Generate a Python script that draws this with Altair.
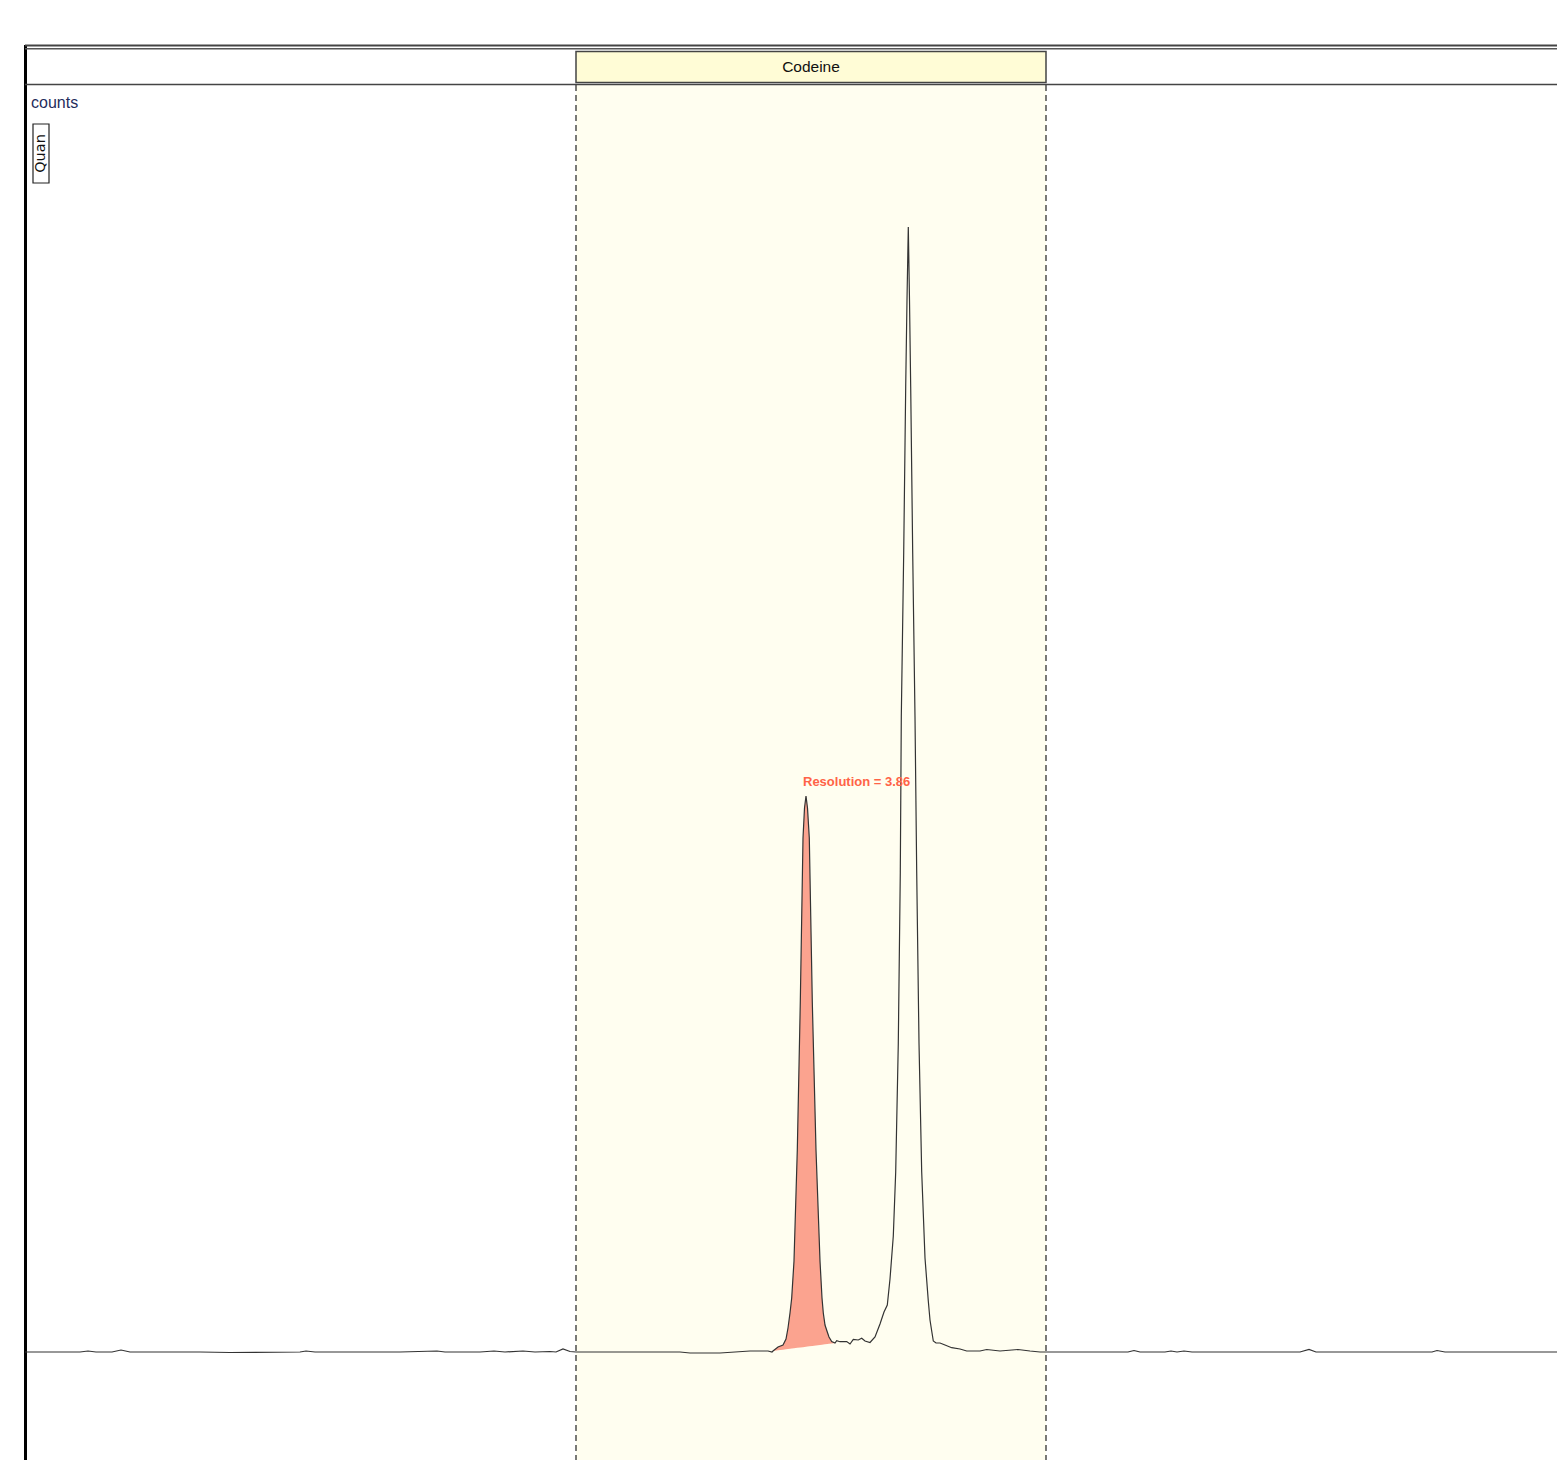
import altair as alt
import pandas as pd

# ---------------- data ----------------
# retention time (min) and detector counts of the chromatogram trace
time_min = [
    0.000, 0.175, 0.275, 0.315, 0.355, 0.435, 0.480, 0.525, 0.875, 1.025,
    1.375, 1.405, 1.450, 1.875, 2.060, 2.100, 2.275, 2.345, 2.400, 2.490,
    2.550, 2.625, 2.655, 2.690, 2.725, 2.755, 2.875, 3.075, 3.275, 3.325,
    3.475, 3.550, 3.625, 3.675, 3.715, 3.735, 3.740, 3.765, 3.790, 3.805,
    3.815, 3.825, 3.8335, 3.845, 3.8615, 3.8765, 3.890, 3.8975, 3.905, 3.9125,
    3.9215, 3.9365, 3.955, 3.975, 3.985, 3.9915, 4.000, 4.0115, 4.020, 4.0335,
    4.050, 4.0585, 4.075, 4.1085, 4.125, 4.1415, 4.1665, 4.1835, 4.200, 4.225,
    4.250, 4.275, 4.295, 4.3115, 4.325, 4.3415, 4.3535, 4.3665, 4.3765, 4.3815,
    4.3935, 4.4035, 4.410, 4.4165, 4.4225, 4.4285, 4.4385, 4.450, 4.4585, 4.470,
    4.4835, 4.500, 4.5165, 4.525, 4.5335, 4.5415, 4.555, 4.575, 4.600, 4.6335,
    4.675, 4.7085, 4.775, 4.8085, 4.875, 4.965, 5.025, 5.075, 5.105, 5.375,
    5.515, 5.545, 5.575, 5.700, 5.730, 5.760, 5.795, 5.835, 6.375, 6.420,
    6.455, 6.875, 7.035, 7.060, 7.100, 7.375, 7.700,
]
counts = [
    5000, 5000, 5000, 6000, 5000, 5000, 7000, 5000, 5000, 4500,
    5000, 6000, 5000, 5000, 6000, 5000, 5000, 6000, 5000, 6000,
    5000, 5500, 5000, 8000, 5500, 5000, 5000, 5000, 5000, 4000,
    4000, 5000, 6000, 6000, 6000, 5000, 6000, 10000, 12000, 18000,
    29000, 44000, 59000, 96000, 207000, 355000, 519000, 549000, 561000, 549000,
    519000, 355000, 207000, 96000, 59000, 44000, 32000, 25000, 20000, 15500,
    14000, 16300, 15300, 15500, 13000, 17700, 17000, 18700, 16000, 14500,
    20000, 33000, 45000, 52000, 78000, 121000, 185000, 314000, 485000, 640000,
    804000, 970000, 1057000, 1130000, 1057000, 970000, 804000, 640000, 485000, 314000,
    185000, 99000, 56000, 37000, 26000, 16000, 14000, 14000, 12000, 9300,
    8000, 6000, 6000, 7500, 6000, 7500, 6000, 5000, 5000, 5000,
    5000, 6500, 5000, 5000, 6000, 5000, 6000, 5000, 5000, 7500,
    5000, 5000, 5000, 6500, 5000, 5000, 5000,
]

compound = ["Codeine"]
window_start = [2.755]
window_end = [5.105]

peak_start, peak_end = 3.740, 4.050
peak_start_counts, peak_end_counts = 6000, 14000
apex_time = [3.905]
apex_counts = [561000]
annotation = ["Resolution = 3.86"]

y_title = ["counts"]
trace_tag = ["Quan"]

# ---------------- layout ----------------
X_DOMAIN = [0.0, 7.66]
Y_DOMAIN = [-103000, 1312000]
W, H = 1532, 1415
SANS = "Liberation Sans, Arial, sans-serif"

xs = alt.Scale(domain=X_DOMAIN, nice=False, zero=False)
ys = alt.Scale(domain=Y_DOMAIN, nice=False, zero=False)

trace = pd.DataFrame({"time": time_min, "counts": counts})
win = pd.DataFrame({"start": window_start, "end": window_end, "name": compound})
ann = pd.DataFrame({"time": apex_time, "counts": apex_counts, "label": annotation})
ytl = pd.DataFrame({"label": y_title})
tag = pd.DataFrame({"label": trace_tag})
dummy = pd.DataFrame({"k": [0]})

band = alt.Chart(win).mark_rect(color="#fffef0").encode(
    x=alt.X("start:Q", scale=xs, axis=None), x2="end:Q",
    y=alt.value(40), y2=alt.value(H),
)

dashes = alt.Chart(win).transform_fold(["start", "end"], as_=["edge", "t"]).mark_rule(
    color="#222222", strokeWidth=1.2, strokeDash=[6, 4]
).encode(x=alt.X("t:Q", scale=xs, axis=None), y=alt.value(40), y2=alt.value(H))

frame_left = alt.Chart(dummy).mark_rule(color="#000000", strokeWidth=3).encode(
    x=alt.value(0.5), y=alt.value(0), y2=alt.value(H)
)
top1 = alt.Chart(dummy).mark_rule(color="#444444", strokeWidth=2).encode(
    x=alt.value(0), x2=alt.value(W + 20), y=alt.value(0.5)
)
top2 = alt.Chart(dummy).mark_rule(color="#555555", strokeWidth=1.5).encode(
    x=alt.value(0), x2=alt.value(W + 20), y=alt.value(3.8)
)
sep = alt.Chart(dummy).mark_rule(color="#444444", strokeWidth=1.5).encode(
    x=alt.value(0), x2=alt.value(W + 20), y=alt.value(39.5)
)

hdr = alt.Chart(win).mark_rect(fill="#fffcd6", stroke="#444444", strokeWidth=1.5).encode(
    x=alt.X("start:Q", scale=xs, axis=None), x2="end:Q",
    y=alt.value(6.5), y2=alt.value(37.5),
)
hdr_text = alt.Chart(win).transform_calculate(mid="(datum.start + datum.end) / 2").mark_text(
    font=SANS, fontSize=15.5, color="#111111", align="center", baseline="middle"
).encode(x=alt.X("mid:Q", scale=xs, axis=None), y=alt.value(22), text="name:N")

counts_lbl = alt.Chart(ytl).mark_text(
    font=SANS, fontSize=16, color="#1f2d5c", align="left", baseline="middle"
).encode(x=alt.value(6), y=alt.value(58), text="label:N")

tag_box = alt.Chart(dummy).mark_rect(fill="#ffffff", stroke="#222222", strokeWidth=1.2).encode(
    x=alt.value(8), x2=alt.value(24), y=alt.value(79), y2=alt.value(138)
)
tag_text = alt.Chart(tag).mark_text(
    font="DejaVu Sans", fontSize=14.5, color="#111111", align="center", baseline="middle", angle=270
).encode(x=alt.value(16), y=alt.value(108.5), text="label:N")

area = alt.Chart(trace).transform_filter(
    f"datum.time >= {peak_start} && datum.time <= {peak_end}"
).transform_calculate(
    base=f"{peak_start_counts} + (datum.time - {peak_start}) * ({peak_end_counts} - {peak_start_counts}) / ({peak_end} - {peak_start})"
).mark_area(color="#fba38f", opacity=1).encode(
    x=alt.X("time:Q", scale=xs, axis=None),
    y=alt.Y("counts:Q", scale=ys, axis=None),
    y2="base:Q",
)

line = alt.Chart(trace).mark_line(color="#333333", strokeWidth=1.2).encode(
    x=alt.X("time:Q", scale=xs, axis=None),
    y=alt.Y("counts:Q", scale=ys, axis=None),
)

ann_text = alt.Chart(ann).mark_text(
    font=SANS, fontSize=13, fontWeight="bold", color="#ff6347", align="left",
    baseline="middle", dx=-3, dy=-14
).encode(
    x=alt.X("time:Q", scale=xs, axis=None),
    y=alt.Y("counts:Q", scale=ys, axis=None),
    text="label:N",
)

chart = alt.layer(
    band, dashes, frame_left, top1, top2, sep, hdr, hdr_text,
    counts_lbl, tag_box, tag_text, area, line, ann_text,
).properties(
    width=W, height=H,
    autosize=alt.AutoSizeParams(type="none"),
    padding={"left": 17, "top": 37, "right": 0, "bottom": 0},
    background="#ffffff",
).configure_view(stroke=None)

chart.save("out.html", embed_options={"renderer": "svg", "actions": False})
